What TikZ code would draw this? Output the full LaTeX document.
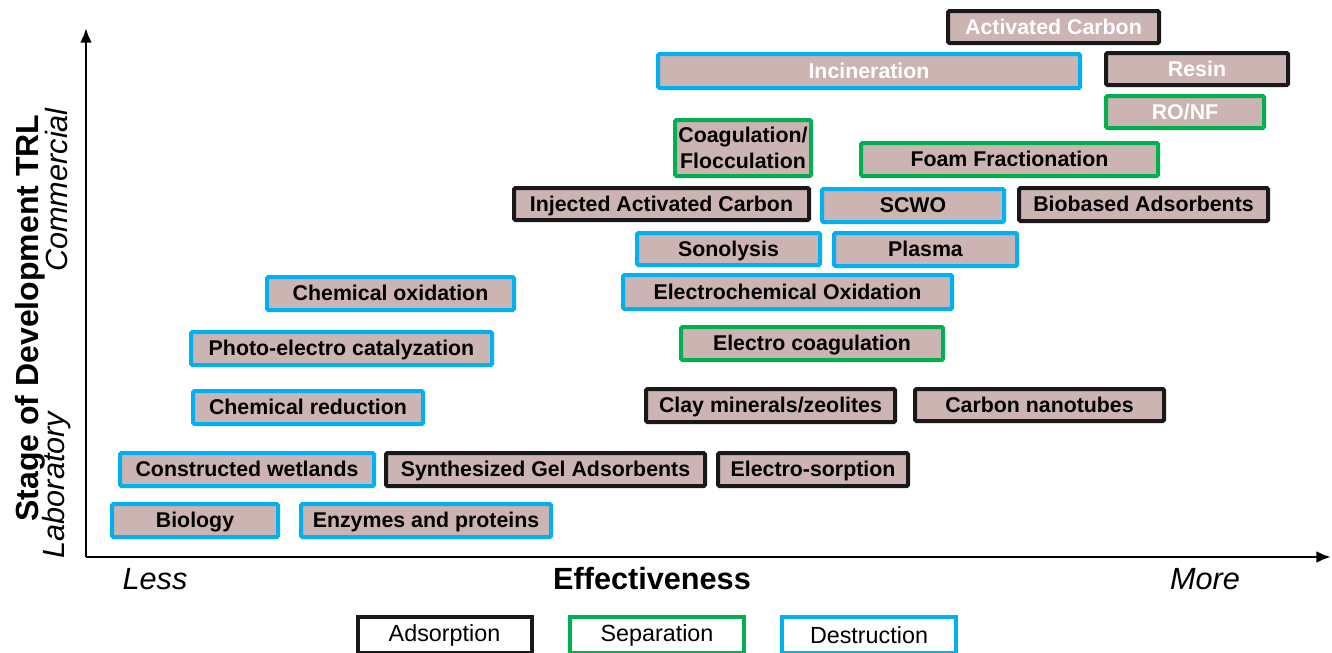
\documentclass[tikz,border=0pt]{standalone}
\usepackage{fontspec}
\setmainfont{Liberation Sans}
\usetikzlibrary{arrows.meta}
\definecolor{boxfill}{RGB}{204,180,179}
\definecolor{adsblack}{RGB}{25,25,25}
\definecolor{sepgreen}{RGB}{0,176,80}
\definecolor{desblue}{RGB}{0,176,240}
\begin{document}
\begin{tikzpicture}[x=0.75pt, y=-0.75pt,
                    box/.style={fill=boxfill, line width=3pt, rounded corners=1pt, inner sep=0pt,
                                font=\fontsize{16}{19}\selectfont\bfseries, text height=11.5pt, text depth=0.6pt},
                    wh/.style 2 args={minimum width=#1*0.75pt, minimum height=#2*0.75pt},
                    adsorb/.style={box, draw=adsblack},
                    separ/.style={box, draw=sepgreen},
                    destr/.style={box, draw=desblue},
                    legendbox/.style={draw=#1, fill=white, line width=3pt, inner sep=0pt,
                                      minimum width=174*0.75pt, minimum height=36*0.75pt,
                                      font=\fontsize{17.5}{20}\selectfont},
                    axislabel/.style={font=\fontsize{23}{26}\selectfont\itshape},
                ]
                \useasboundingbox (0,0) rectangle (1332,653);
                % axes
                \coordinate (origin) at (86,557);
                \coordinate (ytip) at (86,28);
                \coordinate (xtip) at (1331,557);
                \draw[line width=2.2pt, -{Latex[length=11pt,width=9pt]}] (origin) -- (ytip);
                \draw[line width=2.2pt, -{Latex[length=11pt,width=9pt]}] (origin) -- (xtip);
                \node[axislabel] (less) at (155,579) {Less};
                \node[font=\fontsize{23}{26}\selectfont\bfseries] (effect) at (652,579) {Effectiveness};
                \node[axislabel] (more) at (1205,579) {More};
                \node[rotate=90, font=\fontsize{24}{27}\selectfont\bfseries] (stage) at (30,318) {Stage of Development TRL};
                \node[rotate=90, axislabel] (commercial) at (57,190) {Commercial};
                \node[rotate=90, axislabel] (laboratory) at (57,485) {Laboratory};
                % technologies
                \node[adsorb, wh={211}{32}, text=white] (actcarbon) at (1053.5,27) {Activated Carbon};
                \node[destr, wh={422}{34}, text=white] (incineration) at (869,71) {Incineration};
                \node[adsorb, wh={182}{32}, text=white] (resin) at (1197,69) {Resin};
                \node[separ, wh={158}{32}, text=white] (ronf) at (1185,112) {RO/NF};
                \node[separ, wh={136}{56}, text height=, text depth=, align=center] (coag) at (743,148) {Coagulation/\\Flocculation};
                \node[separ, wh={297}{33}] (foam) at (1009.5,159.5) {Foam Fractionation};
                \node[adsorb, wh={295}{32}] (injected) at (661.5,204) {Injected Activated Carbon};
                \node[destr, wh={182}{33}] (scwo) at (913,205.5) {SCWO};
                \node[adsorb, wh={249}{33}] (biobased) at (1143.5,204.5) {Biobased Adsorbents};
                \node[destr, wh={183}{32}] (sonolysis) at (728.5,249) {Sonolysis};
                \node[destr, wh={183}{33}] (plasma) at (925.5,249.5) {Plasma};
                \node[destr, wh={247}{33}] (chemox) at (390.5,293.5) {Chemical oxidation};
                \node[destr, wh={329}{34}] (echemox) at (787.5,292) {Electrochemical Oxidation};
                \node[destr, wh={301}{33}] (photo) at (341.5,348.5) {Photo-electro catalyzation};
                \node[separ, wh={262}{33}] (ecoag) at (812,343.5) {Electro coagulation};
                \node[destr, wh={230}{33}] (chemred) at (308,407.5) {Chemical reduction};
                \node[adsorb, wh={249}{33}] (clay) at (770.5,405.5) {Clay minerals/zeolites};
                \node[adsorb, wh={249}{32}] (nanotubes) at (1039.5,405) {Carbon nanotubes};
                \node[destr, wh={254}{33}] (wetlands) at (247,469.5) {Constructed wetlands};
                \node[adsorb, wh={319}{33}] (gel) at (545.5,469.5) {Synthesized Gel Adsorbents};
                \node[adsorb, wh={190}{33}] (esorption) at (813,469.5) {Electro-sorption};
                \node[destr, wh={166}{33}] (biology) at (195,520.5) {Biology};
                \node[destr, wh={250}{33}] (enzymes) at (426,520.5) {Enzymes and proteins};
                % legend
                \node[legendbox=adsblack] (adsorption) at (444.5,635) {Adsorption};
                \node[legendbox=sepgreen] (separation) at (657,635) {Separation};
                \node[legendbox=desblue] (destruction) at (869,635) {Destruction};
                \end{tikzpicture}
\end{document}
